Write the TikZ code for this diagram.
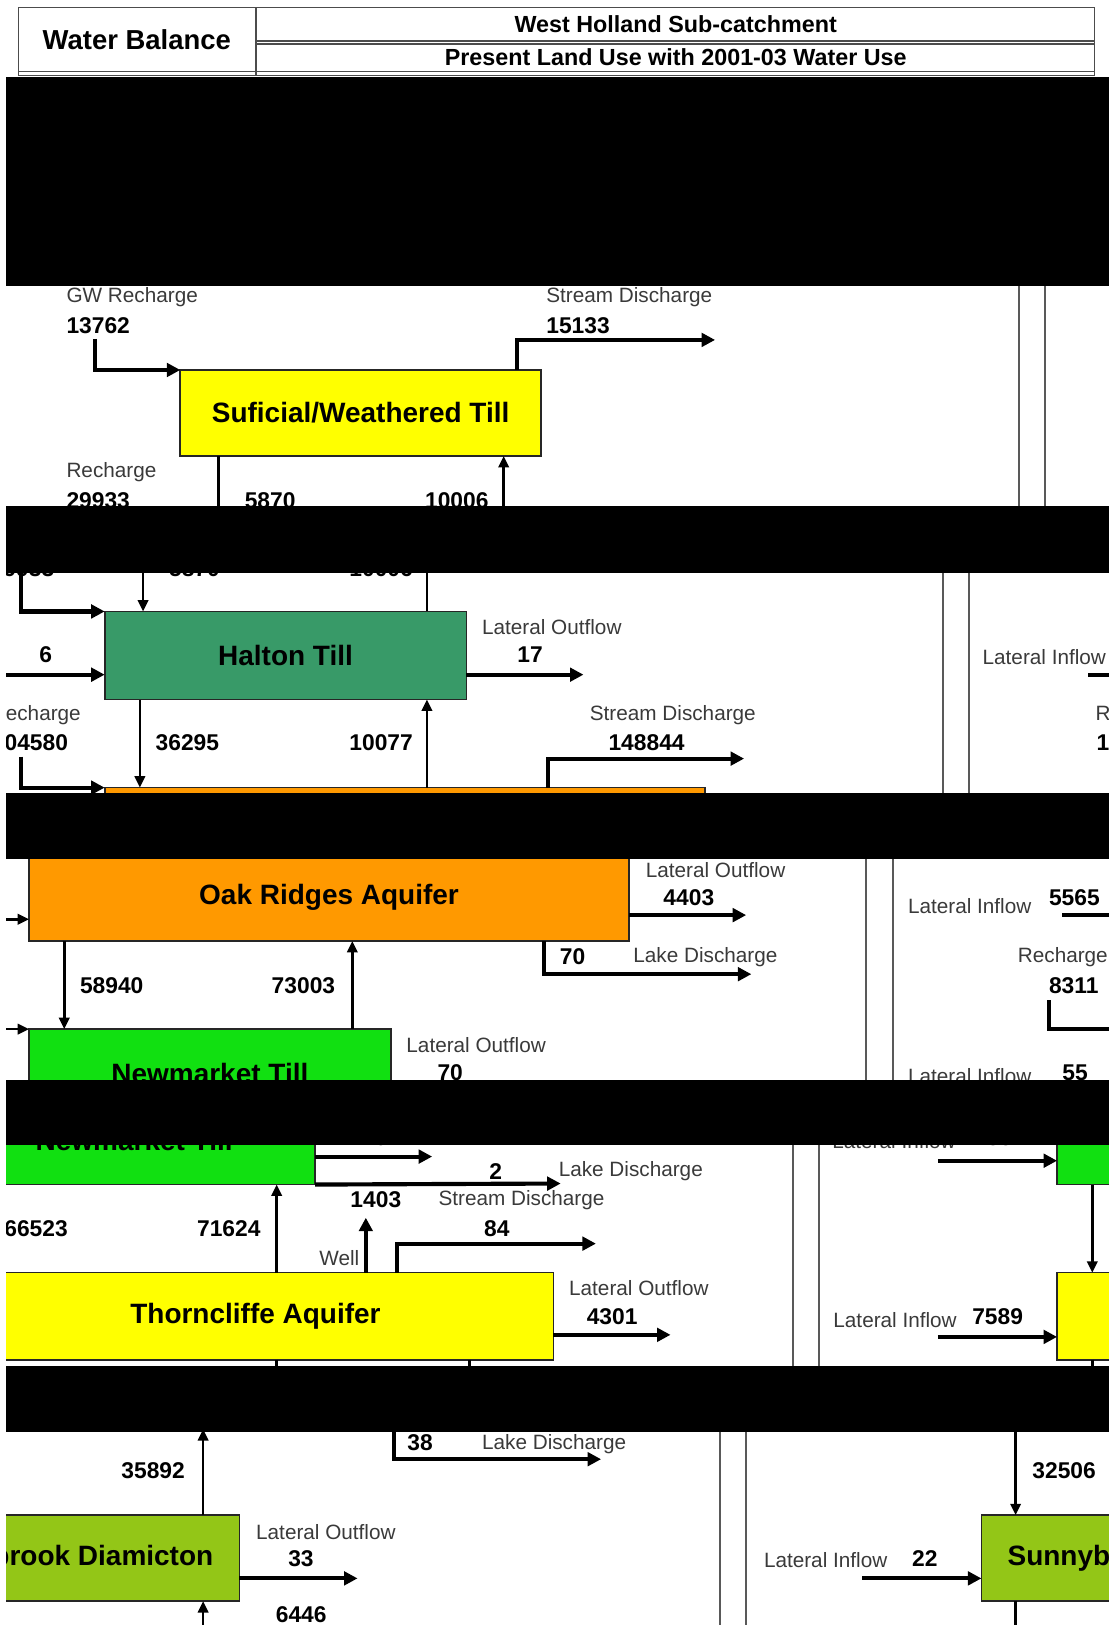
\documentclass[tikz,border=0pt]{standalone}
\usepackage{fontspec}
\setmainfont{Liberation Sans}
\usetikzlibrary{arrows.meta}
\definecolor{tillyellow}{HTML}{FFFF00}
\definecolor{haltgreen}{HTML}{389A68}
\definecolor{oakorange}{HTML}{FF9900}
\definecolor{newgreen}{HTML}{11E011}
\definecolor{sunnygreen}{HTML}{93C617}
\definecolor{labgray}{HTML}{3A3A3A}
\tikzset{
  lbl/.style={anchor=west, inner sep=0pt, text=labgray, font=\fontsize{20}{22}\selectfont},
  num/.style={anchor=west, inner sep=0pt, font=\bfseries\fontsize{22}{24}\selectfont},
  unit/.style={draw=black!85, line width=1.6pt, inner sep=0pt, outer sep=0pt, font=\bfseries\fontsize{27}{30}\selectfont},
  bigflow/.style={line width=4pt, -{Triangle[length=13pt,width=13pt]}},
  flow/.style={line width=2.5pt, -{Triangle[length=11pt,width=10pt]}},
  plainline/.style={line width=2.5pt},
  divider/.style={line width=1.8pt, draw=black!65},
  hdr/.style={line width=1.4pt, draw=black!70},
  hdrtext/.style={inner sep=0pt, font=\bfseries\fontsize{22.5}{25}\selectfont},
  blackbar/.style={fill=black},
}
\begin{document}
\begin{tikzpicture}[x=1pt,y=-1pt]
\useasboundingbox (0,0) rectangle (1074,1568);
\fill[white] (0,0) rectangle (1074,1568);

% ---------------- header ----------------
\draw[hdr] (18,7) rectangle (1056,73);
\draw[hdr] (18,69) -- (1056,69);
\draw[hdr] (247,7) -- (247,73);
\draw[hdr] (247,39.5) -- (1056,39.5);
\draw[hdr] (247,42.5) -- (1056,42.5);
\node[hdrtext, font=\bfseries\fontsize{26.5}{29}\selectfont] (wb) at (132,38) {Water Balance};
\node[hdrtext] (whs) at (652,23) {West Holland Sub-catchment};
\node[hdrtext] (plu) at (652,55) {Present Land Use with 2001-03 Water Use};

% ---------------- strip 1 ----------------
\begin{scope}
\clip (6,276) rectangle (1070,488);
\draw[divider] (983,260) -- (983,500);
\draw[divider] (1008,260) -- (1008,500);
\node[unit, fill=tillyellow, minimum width=348pt, minimum height=83pt] (sft) at (348,398.5) {Suficial/Weathered Till};
\node[lbl] (gwr) at (64,287) {GW Recharge};
\node[num] (gwrv) at (64,314) {13762};
\draw[bigflow] (92,327) |- (sft.north west);
\node[lbl] (sd1) at (527,287) {Stream Discharge};
\node[num] (sd1v) at (527,314) {15133};
\coordinate (sd1end) at (690,328);
\draw[bigflow] (sft.north -| 499,0) |- (sd1end);
\node[lbl] (rc1) at (64,456) {Recharge};
\node[num] (rc1v) at (64,483) {29933};
\node[num] (d1v) at (236,483) {5870};
\node[num] (u1v) at (410,483) {10006};
\coordinate (d1end) at (211,500);
\coordinate (u1start) at (486,500);
\draw[plainline] (sft.south -| d1end) -- (d1end);
\draw[flow] (u1start) -- (sft.south -| u1start);
\end{scope}

% ---------------- strip 2 ----------------
\begin{scope}
\clip (6,553) rectangle (1070,765);
\draw[divider] (910,540) -- (910,780);
\draw[divider] (935,540) -- (935,780);
\node[num] (p1) at (-9,549) {29933};
\node[num] (p2) at (163,549) {5870};
\node[num] (p3) at (337,549) {10006};
\node[unit, fill=haltgreen, minimum width=349pt, minimum height=85pt] (halton) at (275.5,632.5) {Halton Till};
\coordinate (rc2top) at (20,540);
\draw[bigflow] (rc2top) |- (halton.north west);
\coordinate (d2top) at (138,540);
\draw[flow] (d2top) -- (halton.north -| d2top);
\coordinate (u2top) at (412,540);
\draw[plainline] (halton.north -| u2top) -- (u2top);
\node[num, anchor=center] (six) at (44,632) {6};
\coordinate (latin2) at (-10,651);
\draw[bigflow] (latin2) -- (halton.west |- latin2);
\node[lbl] (lo2) at (465,605) {Lateral Outflow};
\node[num] (lo2v) at (499,632) {17};
\coordinate (lo2end) at (563,651);
\draw[bigflow] (halton.east |- lo2end) -- (lo2end);
\node[lbl] (rc2) at (-9,690) {Recharge};
\node[num] (rc2v) at (-8,717) {104580};
\node[unit, fill=oakorange, minimum width=579pt, minimum height=85pt] (oak2) at (390.5,802.5) {};
\draw[bigflow] (20,730) |- (oak2.north west);
\coordinate (d3) at (135,675);
\draw[flow] (halton.south -| d3) -- (oak2.north -| d3);
\node[num] (d3v) at (150,717) {36295};
\coordinate (u3) at (412,700);
\draw[flow] (oak2.north -| u3) -- (halton.south -| u3);
\node[num] (u3v) at (337,717) {10077};
\node[lbl] (sd2) at (569,690) {Stream Discharge};
\node[num] (sd2v) at (587,717) {148844};
\coordinate (sd2end) at (718,732);
\draw[bigflow] (oak2.north -| 529,0) |- (sd2end);
\node[lbl] (li2) at (948,634) {Lateral Inflow};
\draw[bigflow] (1050,651) -- (1120,651);
\node[lbl] (rr2) at (1057,690) {Recharge};
\node[num] (rr2v) at (1058,717) {1};
\end{scope}

% ---------------- strip 3 ----------------
\begin{scope}
\clip (6,829) rectangle (1070,1042);
\draw[divider] (836,815) -- (836,1060);
\draw[divider] (862,815) -- (862,1060);
\node[unit, fill=oakorange, minimum width=579pt, minimum height=85pt] (oak) at (317.5,865.5) {Oak Ridges Aquifer};
\node[unit, fill=newgreen, minimum width=349pt, minimum height=85pt] (nmk) at (202.5,1035.5) {Newmarket Till};
\draw[flow] (-5,887) -- (oak.west |- 0,887);
\draw[flow] (-5,993) -- (nmk.north west);
\node[lbl] (lo3) at (623,840) {Lateral Outflow};
\node[num] (lo3v) at (640,866) {4403};
\coordinate (lo3end) at (720,883);
\draw[bigflow] (oak.east |- lo3end) -- (lo3end);
\coordinate (ld3end) at (725,940);
\draw[bigflow] (oak.south -| 525,0) |- (ld3end);
\node[num] (ld3v) at (540,923) {70};
\node[lbl] (ld3) at (611,924) {Lake Discharge};
\coordinate (d4) at (62,950);
\draw[flow] (oak.south -| d4) -- (nmk.north -| d4);
\node[num] (d4v) at (77,951) {58940};
\coordinate (u4) at (340,950);
\draw[flow] (nmk.north -| u4) -- (oak.south -| u4);
\node[num] (u4v) at (262,951) {73003};
\node[lbl] (lo4) at (392,1008) {Lateral Outflow};
\node[num] (lo4v) at (422,1035) {70};
\node[lbl] (li3) at (876,874) {Lateral Inflow};
\node[num] (li3v) at (1012,866) {5565};
\draw[bigflow] (1025,883) -- (1120,883);
\node[lbl] (rr3) at (982,924) {Recharge};
\node[num] (rr3v) at (1012,951) {8311};
\draw[bigflow] (1012,965) |- (1120,993);
\node[lbl] (li4) at (876,1038) {Lateral Inflow};
\node[num] (li4v) at (1025,1035) {55};
\end{scope}

% ---------------- strip 4 ----------------
\begin{scope}
\clip (6,1105) rectangle (1070,1318);
\draw[divider] (765,1090) -- (765,1330);
\draw[divider] (790,1090) -- (790,1330);
\node[unit, fill=newgreen, minimum width=349pt, minimum height=85pt] (nmk4) at (129.5,1100.5) {Newmarket Till};
\node[unit, fill=tillyellow, minimum width=575pt, minimum height=84pt] (thc) at (246.5,1270) {Thorncliffe Aquifer};
\node[num] (lo4b) at (349,1098) {70};
\coordinate (lo4end) at (417,1116);
\draw[bigflow] (nmk4.east |- lo4end) -- (lo4end);
\node[num] (ld4v) at (472,1130) {2};
\node[lbl] (ld4) at (539,1130) {Lake Discharge};
\draw[bigflow] (nmk4.south east) -- (541,1142);
\coordinate (u5) at (267,1180);
\draw[flow] (thc.north -| u5) -- (nmk4.south -| u5);
\node[num] (u5v) at (190,1186) {71624};
\node[num] (d5v) at (4,1186) {66523};
\node[num] (wellv) at (338,1158) {1403};
\node[lbl] (well) at (308,1214) {Well};
\coordinate (wellend) at (353,1175);
\draw[bigflow] (thc.north -| wellend) -- (wellend);
\node[lbl] (sd4) at (423,1158) {Stream Discharge};
\node[num] (sd4v) at (467,1186) {84};
\coordinate (sd4end) at (575,1200);
\draw[bigflow] (thc.north -| 383,0) |- (sd4end);
\node[lbl] (lo5) at (549,1243) {Lateral Outflow};
\node[num] (lo5v) at (566,1270) {4301};
\coordinate (lo5end) at (647,1288);
\draw[bigflow] (thc.east |- lo5end) -- (lo5end);
\draw[plainline] (thc.south -| 267,0) -- (267,1330);
\draw[plainline] (thc.south -| 453,0) -- (453,1330);
% right column
\node[unit, fill=newgreen, minimum width=100pt, minimum height=85pt] (nmkR) at (1070,1100.5) {};
\node[unit, fill=tillyellow, minimum width=100pt, minimum height=84pt] (thcR) at (1070,1270) {};
\node[lbl] (li5) at (803,1101) {Lateral Inflow};
\node[num] (li5v) at (952,1098) {55};
\coordinate (li5start) at (905,1120);
\draw[bigflow] (li5start) -- (nmkR.west |- li5start);
\coordinate (dR) at (1054,1200);
\draw[flow] (nmkR.south -| dR) -- (thcR.north -| dR);
\node[lbl] (li6) at (804,1274) {Lateral Inflow};
\node[num] (li6v) at (938,1270) {7589};
\coordinate (li6start) at (905,1290);
\draw[bigflow] (li6start) -- (thcR.west |- li6start);
\draw[plainline] (thcR.south -| dR) -- (1054,1330);
\end{scope}

% ---------------- strip 5 ----------------
\begin{scope}
\clip (6,1382) rectangle (1070,1568);
\draw[divider] (695,1370) -- (695,1580);
\draw[divider] (720,1370) -- (720,1580);
\node[unit, fill=sunnygreen, minimum width=346pt, minimum height=83pt] (snb) at (58,1503.5) {Sunnybrook Diamicton};
\node[unit, fill=sunnygreen, minimum width=346pt, minimum height=83pt] (snbR) at (1120,1503.5) {Sunnybrook Diamicton};
\node[num] (ld5v) at (393,1392) {38};
\node[lbl] (ld5) at (465,1393) {Lake Discharge};
\draw[bigflow] (380,1370) |- (580,1408);
\coordinate (u6top) at (196,1379);
\draw[flow] (snb.north -| u6top) -- (u6top);
\node[num] (u6v) at (117,1419) {35892};
\node[lbl] (lo6) at (247,1478) {Lateral Outflow};
\node[num] (lo6v) at (278,1504) {33};
\coordinate (lo6end) at (345,1523);
\draw[bigflow] (snb.east |- lo6end) -- (lo6end);
\node[num] (u7v) at (266,1558) {6446};
\coordinate (u7bot) at (196,1585);
\draw[flow] (u7bot) -- (snb.south -| u7bot);
\coordinate (dR2) at (980,1370);
\draw[flow] (dR2) -- (snbR.north -| dR2);
\node[num] (dR2v) at (996,1419) {32506};
\node[lbl] (li7) at (737,1505) {Lateral Inflow};
\node[num] (li7v) at (880,1504) {22};
\coordinate (li7start) at (832,1523);
\draw[bigflow] (li7start) -- (snbR.west |- li7start);
\draw[plainline] (snbR.south -| dR2) -- (980,1585);
\end{scope}

% ---------------- black bars ----------------
\fill[blackbar] (6,74.5) rectangle (1070,276);
\fill[blackbar] (6,488) rectangle (1070,553);
\fill[blackbar] (6,765) rectangle (1070,829);
\fill[blackbar] (6,1042) rectangle (1070,1105);
\fill[blackbar] (6,1318) rectangle (1070,1382);
\end{tikzpicture}
\end{document}
